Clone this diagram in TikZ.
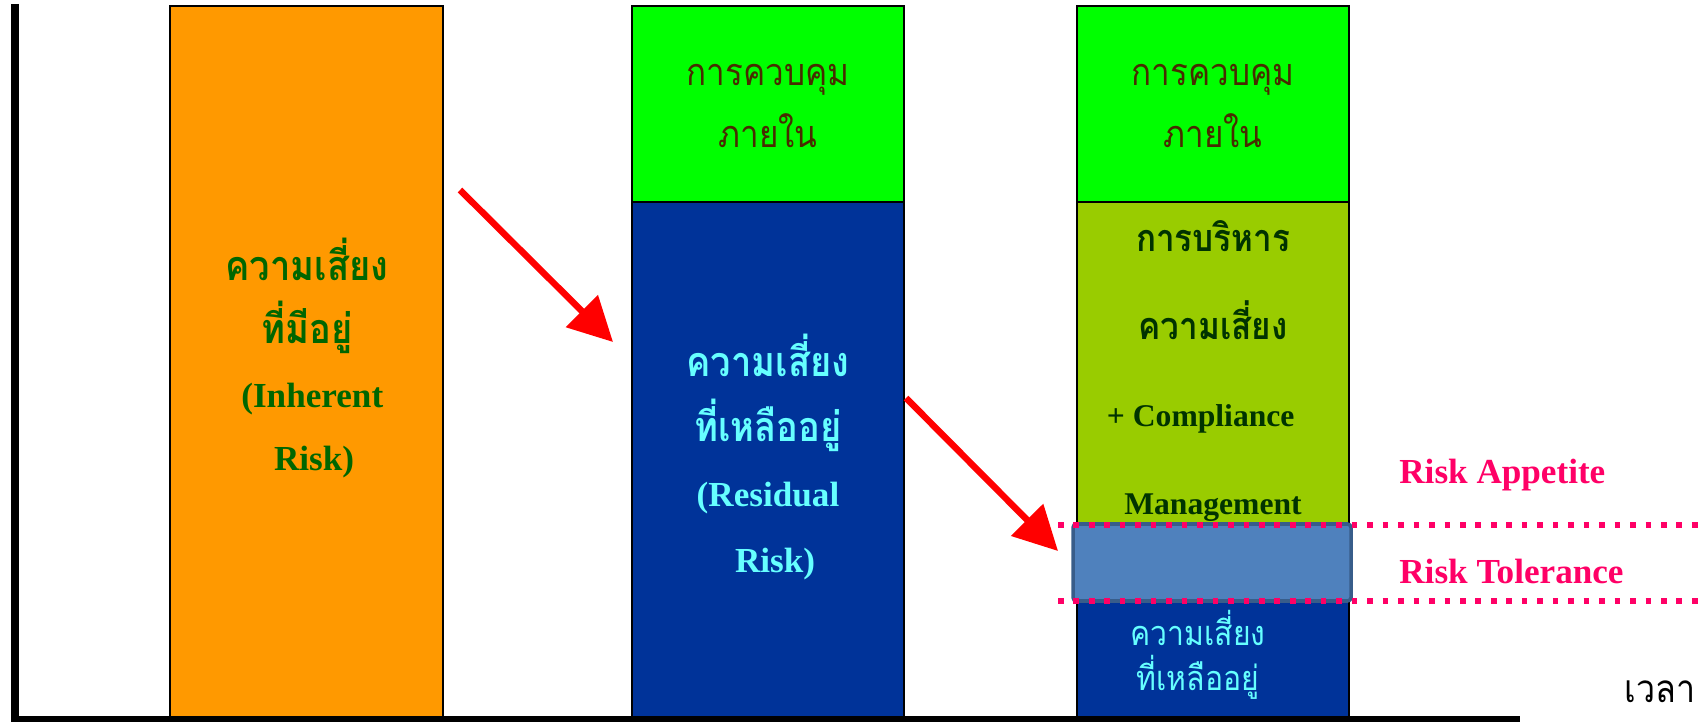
\documentclass[tikz,border=0pt]{standalone}
\usepackage{fontspec}
\setmainfont{Liberation Serif}
\newfontfamily\thaifont[Script=Thai, FakeStretch=0.88]{Loma}
\usetikzlibrary{arrows.meta}

\definecolor{inhorange}{RGB}{255,153,0}
\definecolor{ctrlgreen}{RGB}{0,255,0}
\definecolor{resblue}{RGB}{0,51,153}
\definecolor{mgmtolive}{RGB}{153,204,0}
\definecolor{tolblue}{RGB}{79,129,189}
\definecolor{tolborder}{RGB}{56,93,138}
\definecolor{riskpink}{RGB}{255,0,102}
\definecolor{inhtext}{RGB}{0,102,0}
\definecolor{ctrltext}{RGB}{72,44,0}
\definecolor{restext}{RGB}{102,255,255}
\definecolor{mgmttext}{RGB}{0,51,0}

\tikzset{
  bar/.style={draw=black, line width=1.1pt},
  riskarrow/.style={draw=red, line width=3.7pt, -{Triangle[length=25pt,width=25pt]}},
  limitline/.style={draw=riskpink, line width=3.2pt, dash pattern=on 3.2pt off 5.6pt},
  risklabel/.style={text=riskpink, font=\fontsize{20}{22}\selectfont\bfseries, anchor=base west, inner sep=0pt},
  bartext/.style={align=center, inner sep=0pt},
}

\begin{document}
\begin{tikzpicture}[x=0.02cm, y=-0.02cm]
        \useasboundingbox (0,0) rectangle (1702,722);
        % bars
        \filldraw[bar, fill=inhorange] (170,6) rectangle (443,718);
        \filldraw[bar, fill=ctrlgreen] (632,6) rectangle (904,202);
        \filldraw[bar, fill=resblue] (632,202) rectangle (904,718);
        \filldraw[bar, fill=ctrlgreen] (1077,6) rectangle (1349,202);
        \filldraw[bar, fill=mgmtolive] (1077,202) rectangle (1349,525);
        \filldraw[bar, fill=resblue] (1077,601) rectangle (1349,718);
        \filldraw[draw=tolborder, fill=tolblue, line width=2pt, rounded corners=2pt] (1073,524) rectangle (1351,601);
        % limits
        \draw[limitline] (1058,525) -- (1702,525);
        \draw[limitline] (1058,601) -- (1702,601);
        % texts in the bars
        \node[bartext, text=inhtext, font=\fontsize{20}{36}\selectfont\bfseries] (inhtxt) at (307,358)
            {{\fontsize{23.5}{36}\selectfont\thaifont ความเสี่ยง}\\{\fontsize{23.5}{36}\selectfont\thaifont ที่มีอยู่}\\\hspace*{6pt}(Inherent\\\hspace*{8pt}Risk)};
        \node[bartext, text=ctrltext, font=\fontsize{21.5}{35}\selectfont\thaifont] (ctrltxta) at (768,106)
            {การควบคุม\\ภายใน};
        \node[bartext, text=restext, font=\fontsize{20}{37}\selectfont\bfseries] (restxt) at (768,457)
            {{\fontsize{23.5}{37}\selectfont\thaifont ความเสี่ยง}\\{\fontsize{23.5}{37}\selectfont\thaifont ที่เหลืออยู่}\\(Residual\\\hspace*{8pt}Risk)};
        \node[bartext, text=ctrltext, font=\fontsize{21.5}{35}\selectfont\thaifont] (ctrltxtb) at (1213,106)
            {การควบคุม\\ภายใน};
        \node[bartext, text=mgmttext, font=\fontsize{18}{50}\selectfont\bfseries] (mgmttxt) at (1213,371)
            {{\fontsize{21.5}{50}\selectfont\thaifont การบริหาร}\\{\fontsize{21.5}{50}\selectfont\thaifont ความเสี่ยง}\\\hspace*{-14pt}+ Compliance\\Management};
        \node[bartext, text=restext, font=\fontsize{19.5}{26}\selectfont\thaifont] (lefttxt) at (1198,655)
            {ความเสี่ยง\\ที่เหลืออยู่};
        % labels
        \node[risklabel] (appetite) at (1399,483) {Risk Appetite};
        \node[risklabel] (tolerance) at (1399,583) {Risk Tolerance};
        \node[font=\fontsize{22}{24}\selectfont\thaifont, anchor=base, inner sep=0pt] (timelbl) at (1660,702) {เวลา};
        % arrows
        \coordinate (arrowa) at (460,190);
        \coordinate (arrowb) at (613,342);
        \coordinate (arrowc) at (906,398);
        \coordinate (arrowd) at (1058,551);
        \draw[riskarrow] (arrowa) -- (arrowb);
        \draw[riskarrow] (arrowc) -- (arrowd);
        % axes
        \draw[line width=5pt] (15,4) -- (15,721);
        \draw[line width=3.4pt] (11,719) -- (1520,719);
\end{tikzpicture}
\end{document}
